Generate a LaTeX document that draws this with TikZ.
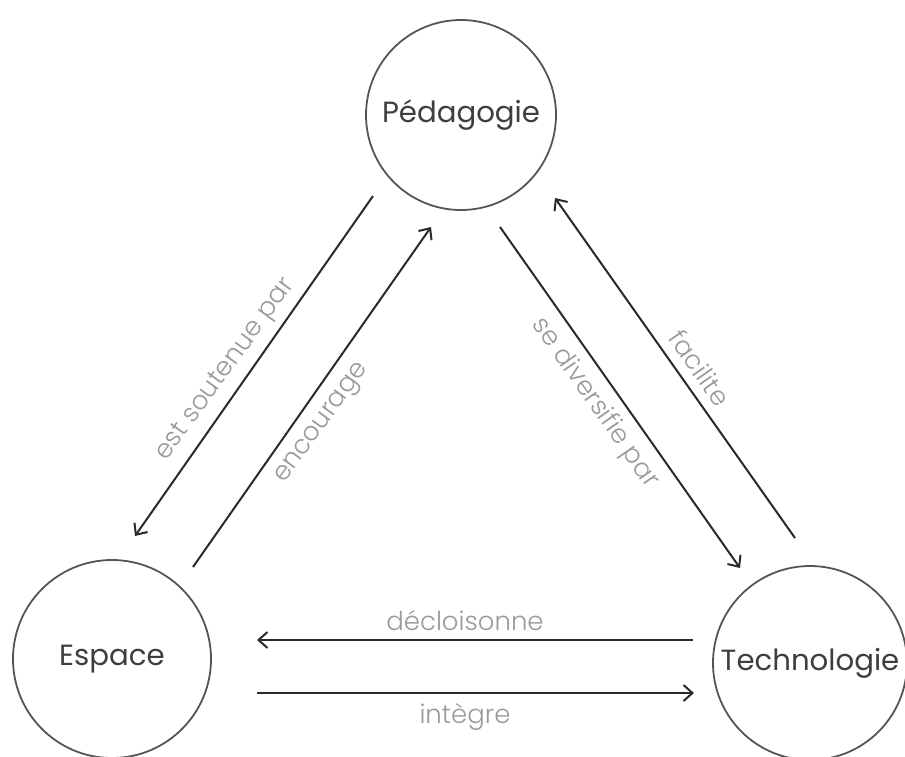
\documentclass[tikz,border=0pt]{standalone}
\usepackage{fontspec}
\setmainfont{Poppins}
\newfontfamily\lightfont{Poppins Light}
\usetikzlibrary{arrows.meta}
\definecolor{circ}{HTML}{555555}
\definecolor{ntext}{HTML}{3E3E3E}
\definecolor{ltext}{HTML}{9A9A9A}
\definecolor{arr}{HTML}{2A2A2A}
\tikzset{
  concept/.style={circle, draw=circ, line width=0.9pt, text=ntext, font=\fontsize{14.6}{16}\selectfont, inner sep=0pt},
  rel/.style={draw=arr, line width=1pt, -{Straight Barb[length=4.5pt,width=8pt]}},
  lab/.style={text=ltext, font=\lightfont\fontsize{13}{15}\selectfont, inner sep=0pt}
}
\begin{document}
\begin{tikzpicture}[x=0.5pt,y=-0.5pt]
\useasboundingbox (0,0) rectangle (905,756);
\node[concept, minimum size=95pt] (P) at (461,115) {Pédagogie};
\node[concept, minimum size=99pt] (E) at (112,659) {Espace};
\node[concept, minimum size=97pt] (T) at (810,663) {Technologie};
% endpoints
\coordinate (a1) at (373,196); \coordinate (a2) at (135,536);
\coordinate (b1) at (193,567); \coordinate (b2) at (431,227);
\coordinate (c1) at (500,227); \coordinate (c2) at (740,568);
\coordinate (d1) at (795,538); \coordinate (d2) at (555,198);
\coordinate (e1) at (693,640); \coordinate (e2) at (257,640);
\coordinate (f1) at (257,693); \coordinate (f2) at (694,693);
\draw[rel] (a1) -- (a2);
\draw[rel] (b1) -- (b2);
\draw[rel] (c1) -- (c2);
\draw[rel] (d1) -- (d2);
\draw[rel] (e1) -- (e2);
\draw[rel] (f1) -- (f2);
\node[lab, rotate=54] (la) at (226,370) {est soutenue par};
\node[lab, rotate=54] (lb) at (323,424) {encourage};
\node[lab, rotate=-55] (lc) at (595,403) {se diversifie par};
\node[lab, rotate=-55] (ld) at (700,368) {facilite};
\node[lab] (le) at (465,621) {décloisonne};
\node[lab] (lf) at (465,717) {intègre};
\end{tikzpicture}
\end{document}
